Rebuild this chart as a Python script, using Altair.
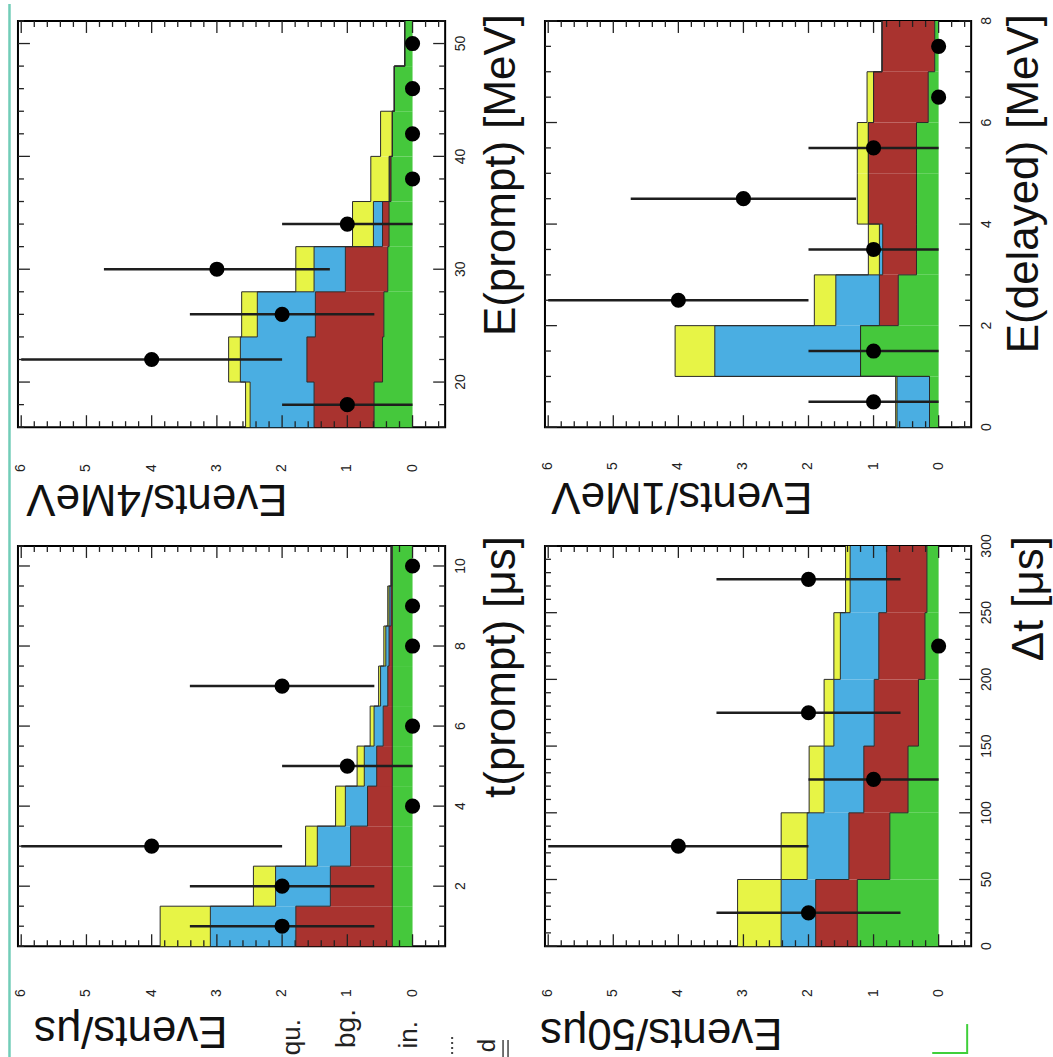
import altair as alt
import pandas as pd

FONT = "Liberation Sans"

# Stacked background/signal components, bottom to top
COMPONENTS = ["green", "red", "blue", "yellow"]
COMP_COLORS = ["#45c83c", "#a9332f", "#4aaee2", "#e7f446"]

# ---- E(prompt), 4 MeV bins ----
EP_EDGES = [16, 20, 24, 28, 32, 36, 40, 44, 48, 52]
EP_GREEN = [0.59, 0.46, 0.44, 0.38, 0.36, 0.33, 0.31, 0.28, 0.12]
EP_RED = [0.92, 1.16, 1.05, 0.65, 0.10, 0.02, 0.0, 0.0, 0.0]
EP_BLUE = [0.98, 1.02, 0.89, 0.48, 0.14, 0.01, 0.0, 0.0, 0.0]
EP_YELLOW = [0.07, 0.18, 0.24, 0.28, 0.32, 0.28, 0.18, 0.0, 0.0]
EP_DATA = [1, 4, 2, 3, 1, 0, 0, 0, 0]

# ---- E(delayed), 1 MeV bins ----
ED_EDGES = [0, 1, 2, 3, 4, 5, 6, 7, 8]
ED_GREEN = [0.14, 1.20, 0.62, 0.34, 0.34, 0.34, 0.16, 0.06]
ED_RED = [0.0, 0.0, 0.29, 0.52, 0.74, 0.74, 0.84, 0.81]
ED_BLUE = [0.50, 2.24, 0.67, 0.05, 0.0, 0.0, 0.0, 0.0]
ED_YELLOW = [0.02, 0.61, 0.33, 0.17, 0.17, 0.17, 0.10, 0.0]
ED_DATA = [1, 1, 4, 1, 3, 1, 0, 0]

# ---- t(prompt), 1 us bins ----
TP_EDGES = [0.5, 1.5, 2.5, 3.5, 4.5, 5.5, 6.5, 7.5, 8.5, 9.5, 10.5]
TP_GREEN = [0.31, 0.31, 0.31, 0.31, 0.31, 0.31, 0.31, 0.31, 0.31, 0.31]
TP_RED = [1.48, 0.95, 0.64, 0.38, 0.24, 0.14, 0.07, 0.05, 0.02, 0.01]
TP_BLUE = [1.31, 0.84, 0.51, 0.34, 0.19, 0.14, 0.11, 0.05, 0.03, 0.01]
TP_YELLOW = [0.77, 0.34, 0.18, 0.15, 0.11, 0.06, 0.03, 0.03, 0.02, 0.0]
TP_DATA = [2, 2, 4, 0, 1, 0, 2, 0, 0, 0]

# ---- Delta t, 50 us bins ----
DT_EDGES = [0, 50, 100, 150, 200, 250, 300]
DT_GREEN = [1.25, 0.75, 0.47, 0.31, 0.21, 0.18]
DT_RED = [0.64, 0.63, 0.68, 0.68, 0.71, 0.62]
DT_BLUE = [0.53, 0.64, 0.61, 0.62, 0.59, 0.56]
DT_YELLOW = [0.67, 0.40, 0.23, 0.15, 0.10, 0.07]
DT_DATA = [2, 4, 1, 2, 0, 2]

COUNT_DOMAIN = [-0.5, 6.05]
COUNT_MAJOR = [0, 1, 2, 3, 4, 5, 6]
LEGEND_TEXT = ["qu.", "bg.", "in.", "d"]


def frange(start, stop, step):
    out, v = [], start
    while v <= stop + 1e-9:
        out.append(round(v, 6))
        v += step
    return out


def minor_of(start, stop, step, major):
    return [v for v in frange(start, stop, step) if all(abs(v - m) > 1e-6 for m in major)]


COUNT_MINOR = minor_of(-0.4, 6.0, 0.2, COUNT_MAJOR)


def stack_table(edges, comps):
    rows = []
    for k, (name, vals) in enumerate(zip(COMPONENTS, comps)):
        for i, v in enumerate(vals):
            rows.append({"lo": edges[i], "hi": edges[i + 1], "comp": name, "order": k, "value": v})
    return pd.DataFrame(rows)


def point_table(edges, counts):
    return pd.DataFrame({
        "c": [(edges[i] + edges[i + 1]) / 2 for i in range(len(counts))],
        "n": counts,
    })


def text_layer(txt, x, y, angle, align, size, color="#111"):
    return alt.Chart(pd.DataFrame({"t": [txt]})).mark_text(
        angle=angle, align=align, baseline="alphabetic", font=FONT, fontSize=size, color=color
    ).encode(x=alt.value(x), y=alt.value(y), text="t:N")


def make_panel(edges, comps, counts, var_major, var_minor, var_title, count_title,
               W, H, count_lab_pad, count_title_xy, var_title_xy, extras=()):
    xs = alt.Scale(domain=COUNT_DOMAIN, reverse=True, nice=False, zero=False)
    ys = alt.Scale(domain=[edges[0], edges[-1]], nice=False, zero=False)

    bar_df = stack_table(edges, comps)
    pt_df = point_table(edges, counts)
    stacked = alt.Chart(bar_df).transform_stack(
        stack="value", groupby=["lo"],
        sort=[alt.SortField(field="order", order="ascending")],
        as_=["c0", "c1"],
    )

    bars = stacked.mark_rect().encode(
        x=alt.X("c0:Q", scale=xs, axis=None),
        x2="c1:Q",
        y=alt.Y("lo:Q", scale=ys, axis=None),
        y2="hi:Q",
        color=alt.Color("comp:N", scale=alt.Scale(domain=COMPONENTS, range=COMP_COLORS), legend=None),
    )

    # step outline along the top of each stacked component
    outline = stacked.transform_fold(["lo", "hi"], as_=["edge_key", "edge"]).transform_calculate(
        sk="datum.edge + (datum.edge_key == 'lo' ? 0.000001 : 0)"
    ).mark_line(color="#2a2a2a", strokeWidth=1).encode(
        x=alt.X("c1:Q", scale=xs, axis=None),
        y=alt.Y("edge:Q", scale=ys, axis=None),
        detail="comp:N",
        order="sk:Q",
    )

    err = alt.Chart(pt_df).transform_filter("datum.n > 0").transform_calculate(
        elo="datum.n - sqrt(datum.n)", ehi="datum.n + sqrt(datum.n)"
    ).mark_rule(color="#1e1e1e", strokeWidth=2.5, clip=True).encode(
        x=alt.X("elo:Q", scale=xs, axis=None),
        x2="ehi:Q",
        y=alt.Y("c:Q", scale=ys, axis=None),
    )

    points = alt.Chart(pt_df).mark_circle(size=230, color="black", opacity=1).encode(
        x=alt.X("n:Q", scale=xs, axis=None),
        y=alt.Y("c:Q", scale=ys, axis=None),
    )

    # inward tick marks on all four sides of the frame
    ticks = []
    for vals, L in ((COUNT_MAJOR, 12), (COUNT_MINOR, 6)):
        base = alt.Chart(pd.DataFrame({"v": vals})).mark_rule(color="#222", strokeWidth=1.3)
        ticks.append(base.encode(x=alt.X("v:Q", scale=xs, axis=None), y=alt.value(0), y2=alt.value(L)))
        ticks.append(base.encode(x=alt.X("v:Q", scale=xs, axis=None), y=alt.value(H), y2=alt.value(H - L)))
    for vals, L in ((var_major, 12), (var_minor, 6)):
        base = alt.Chart(pd.DataFrame({"v": vals})).mark_rule(color="#222", strokeWidth=1.3)
        ticks.append(base.encode(y=alt.Y("v:Q", scale=ys, axis=None), x=alt.value(0), x2=alt.value(L)))
        ticks.append(base.encode(y=alt.Y("v:Q", scale=ys, axis=None), x=alt.value(W), x2=alt.value(W - L)))

    # tick labels, placed through the panel scales (text turned with the figure)
    count_labels = alt.Chart(pd.DataFrame({"v": COUNT_MAJOR})).mark_text(
        angle=270, align="center", baseline="middle", font=FONT, fontSize=14, color="#222"
    ).encode(
        x=alt.X("v:Q", scale=xs, axis=None),
        y=alt.value(H + count_lab_pad),
        text=alt.Text("v:Q", format="d"),
    )
    var_labels = alt.Chart(pd.DataFrame({"v": var_major})).mark_text(
        angle=270, align="center", baseline="middle", font=FONT, fontSize=14, color="#222"
    ).encode(
        y=alt.Y("v:Q", scale=ys, axis=None),
        x=alt.value(W + 16),
        text=alt.Text("v:Q", format="d"),
    )

    # axis titles: the count title reads upside down, the variable title bottom-to-top
    count_t = text_layer(count_title, count_title_xy[0], H + count_title_xy[1], 180, "left", 44)
    var_t = text_layer(var_title, W + var_title_xy[0], var_title_xy[1], 270, "right", 44)

    return alt.layer(
        bars, outline, err, points, *ticks, count_labels, var_labels, count_t, var_t, *extras
    ).properties(width=W, height=H)


one = pd.DataFrame({"k": [0]})

# thin border line along the left edge of the figure
left_border = alt.Chart(one).mark_rule(color="#72cdb8", strokeWidth=2.5).encode(
    x=alt.value(-8.5), y=alt.value(-17), y2=alt.value(1040)
)

# remnants of the legend below the lower-left panel
legend_bits = [
    text_layer(LEGEND_TEXT[0], 283, 474, 270, "right", 26, "#222"),
    text_layer(LEGEND_TEXT[1], 338, 464, 270, "right", 28, "#222"),
    text_layer(LEGEND_TEXT[2], 400, 476, 270, "right", 26, "#222"),
    text_layer(LEGEND_TEXT[3], 478, 494, 270, "right", 24, "#222"),
    alt.Chart(one).mark_rule(color="#444", strokeWidth=2, strokeDash=[2, 3]).encode(
        x=alt.value(435), y=alt.value(492), y2=alt.value(512)),
    alt.Chart(one).mark_rule(color="#444", strokeWidth=1.5).encode(
        x=alt.value(486), y=alt.value(495), y2=alt.value(512)),
    alt.Chart(one).mark_rule(color="#444", strokeWidth=1.5).encode(
        x=alt.value(491), y=alt.value(495), y2=alt.value(512)),
]

green_corner = [
    alt.Chart(one).mark_rule(color="#3fcf3a", strokeWidth=2).encode(
        x=alt.value(423), y=alt.value(479), y2=alt.value(509)),
    alt.Chart(one).mark_rule(color="#3fcf3a", strokeWidth=2).encode(
        x=alt.value(388), x2=alt.value(423), y=alt.value(508)),
]

tl = make_panel(
    EP_EDGES, [EP_GREEN, EP_RED, EP_BLUE, EP_YELLOW], EP_DATA,
    [20, 30, 40, 50], minor_of(16, 52, 2, [20, 30, 40, 50]),
    "E(prompt) [MeV]", "Events/4MeV", 428, 407, 41, (270, 58), (70, -7),
    extras=[left_border],
)
tr = make_panel(
    ED_EDGES, [ED_GREEN, ED_RED, ED_BLUE, ED_YELLOW], ED_DATA,
    [0, 2, 4, 6, 8], minor_of(0, 8, 0.5, [0, 2, 4, 6, 8]),
    "E(delayed) [MeV]", "Events/1MeV", 427, 407, 39, (268, 56), (67, -7),
)
bl = make_panel(
    TP_EDGES, [TP_GREEN, TP_RED, TP_BLUE, TP_YELLOW], TP_DATA,
    [2, 4, 6, 8, 10], minor_of(0.5, 10.5, 0.5, [2, 4, 6, 8, 10]),
    "t(prompt) [μs]", "Events/μs", 428, 401, 47, (210, 71), (70, -10),
    extras=legend_bits,
)
br = make_panel(
    DT_EDGES, [DT_GREEN, DT_RED, DT_BLUE, DT_YELLOW], DT_DATA,
    [0, 50, 100, 150, 200, 250, 300], minor_of(0, 300, 10, [0, 50, 100, 150, 200, 250, 300]),
    "Δt [μs]", "Events/50μs", 427, 401, 47, (238, 73), (72, -10),
    extras=green_corner,
)

chart = alt.concat(
    tl, tr, bl, br, columns=2, spacing={"row": 119, "column": 100}, bounds="flush"
).properties(
    padding={"left": 7, "top": 0, "right": 0, "bottom": 0}, background="white"
).configure_view(
    stroke="black", strokeWidth=2
)

chart.save("out.html", embed_options={"renderer": "svg", "actions": False})
